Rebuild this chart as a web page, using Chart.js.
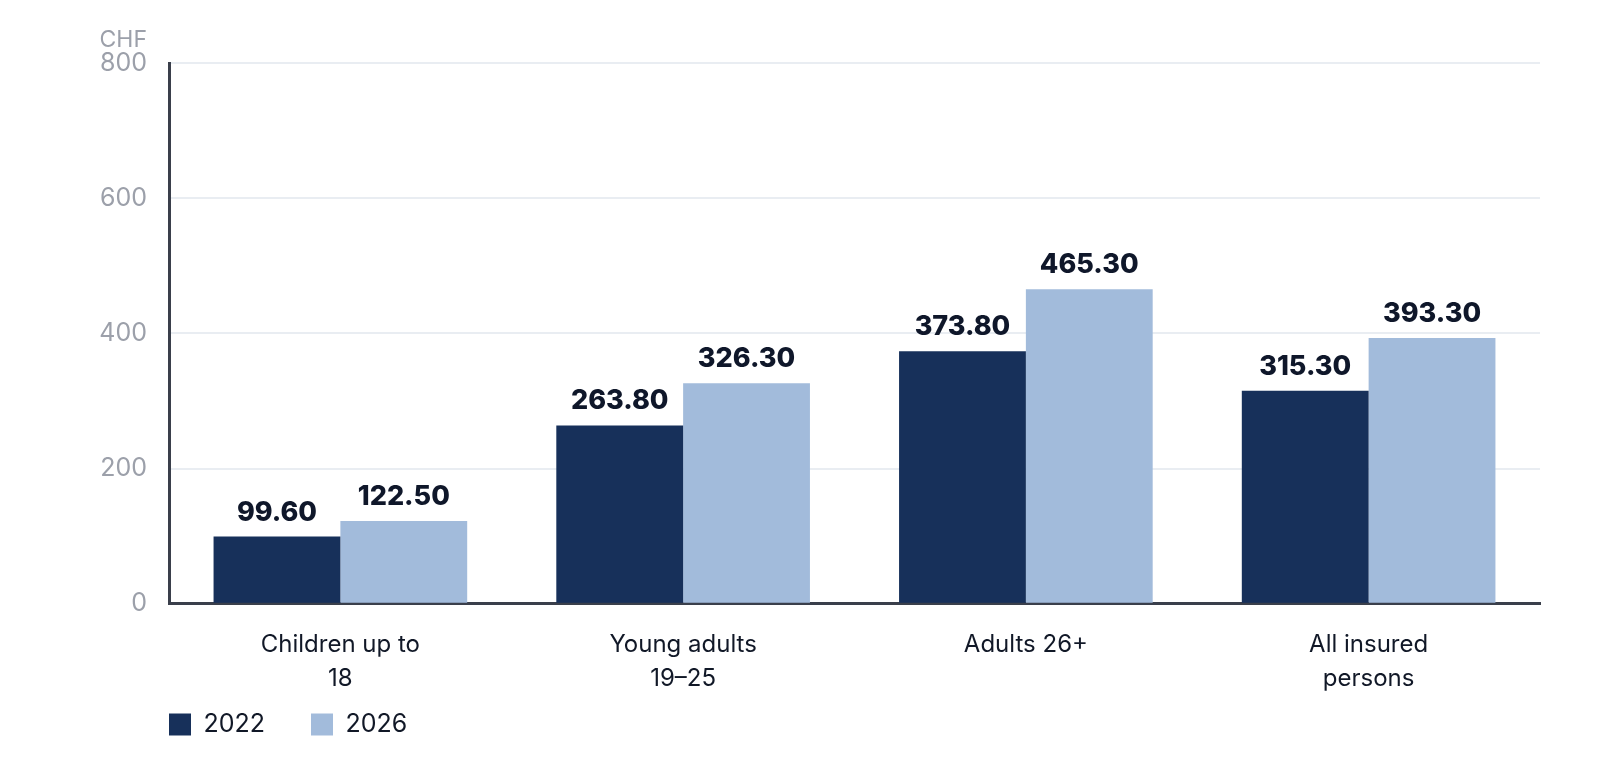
<!DOCTYPE html>
<html>
<head>
<meta charset="utf-8">
<script src="https://cdn.jsdelivr.net/npm/chart.js@4"></script>
<style>
  html, body { margin: 0; padding: 0; background: #fff; }
  #wrap { width: 1600px; height: 760px; }
</style>
</head>
<body>
<div id="wrap"><canvas id="myChart"></canvas></div>
<script>
const categories = [['Children up to', '18'], ['Young adults', '19\u201325'], 'Adults 26+', ['All insured', 'persons']];
const values2022 = [99.6, 263.8, 373.8, 315.3];
const values2026 = [122.5, 326.3, 465.3, 393.3];
const yTicks = [0, 200, 400, 600, 800];
const unitLabel = 'CHF';

const DARK = '#17305a';
const LIGHT = '#a2bbdb';
const LEGEND_GAP = 46;

Chart.defaults.font.family = 'Inter, "Noto Sans", sans-serif';

// value labels above every bar
const barLabels = {
  id: 'barLabels',
  afterDatasetsDraw(chart) {
    const ctx = chart.ctx;
    ctx.save();
    ctx.font = '800 27px Inter, sans-serif';
    ctx.fillStyle = '#0f172a';
    ctx.textAlign = 'center';
    ctx.textBaseline = 'alphabetic';
    chart.data.datasets.forEach(function(ds, i) {
      chart.getDatasetMeta(i).data.forEach(function(bar, j) {
        ctx.fillText(ds.data[j].toFixed(2), bar.x, bar.y - 16);
      });
    });
    ctx.restore();
  }
};

// unit above the y axis, legend tucked under the plot area
const extras = {
  id: 'extras',
  afterInit(chart) {
    // labels.padding is used for vertical space too, take most of it back
    const lg = chart.legend;
    const fit = lg.fit;
    lg.fit = function() {
      fit.call(this);
      this.height -= 53;
    };
  },
  afterLayout(chart) {
    chart.legend.left = chart.chartArea.left - LEGEND_GAP;
    chart.legend.top -= 54;
  },
  afterDraw(chart) {
    const ctx = chart.ctx;
    const y = chart.scales.y;
    ctx.save();
    ctx.font = '23px Inter, sans-serif';
    ctx.fillStyle = '#9ca0aa';
    ctx.textAlign = 'right';
    ctx.textBaseline = 'middle';
    ctx.fillText(unitLabel, y.right - 22, chart.chartArea.top - 23);
    ctx.restore();
  }
};

const ctx = document.getElementById('myChart').getContext('2d');
const chart = new Chart(ctx, {
  type: 'bar',
  data: {
    labels: categories,
    datasets: [{
      label: '2022',
      backgroundColor: DARK,
      data: values2022,
    },
    {
      label: '2026',
      backgroundColor: LIGHT,
      data: values2026,
    }]
  },
  options: {
    responsive: true,
    maintainAspectRatio: false,
    animation: false,
    categoryPercentage: 0.74,
    barPercentage: 1,
    layout: { padding: { left: 0, right: 60, top: 63, bottom: 12 } },
    scales: {
      x: {
        grid: { display: false, drawTicks: false },
        border: { color: '#3a3f4b', width: 3 },
        ticks: { color: '#111827', font: { size: 24, lineHeight: 1.42 }, padding: 24 }
      },
      y: {
        min: 0,
        max: 800,
        afterFit(scale) { scale.width = 169; },
        afterBuildTicks(scale) { scale.ticks = yTicks.map(v => ({ value: v })); },
        grid: { color: '#e9edf2', lineWidth: 2, drawTicks: false },
        border: { color: '#3a3f4b', width: 3 },
        ticks: { color: '#9ca0aa', font: { size: 25 }, padding: 22 }
      }
    },
    plugins: {
      legend: {
        position: 'bottom',
        align: 'start',
        labels: {
          boxWidth: 22,
          boxHeight: 22,
          padding: LEGEND_GAP,
          color: '#111827',
          font: { size: 25 }
        }
      },
      tooltip: { enabled: false }
    }
  },
  plugins: [barLabels, extras]
});
</script>
</body>
</html>
